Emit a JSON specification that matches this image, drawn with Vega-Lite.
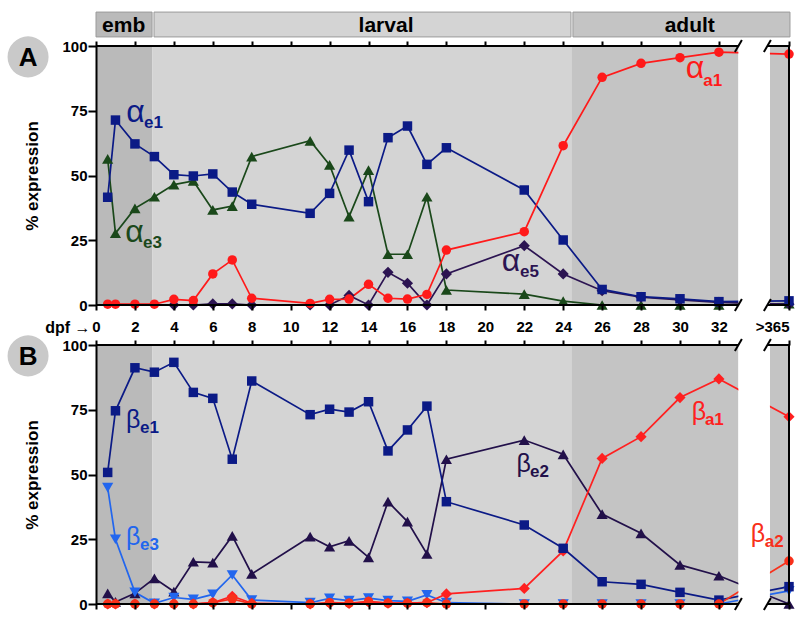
{
"$schema": "https://vega.github.io/schema/vega-lite/v6.json",
"background": "white",
"padding": {"left": 7, "top": 11, "right": 0, "bottom": 0},
"config": {
  "view": {"stroke": null},
  "font": "Liberation Sans",
  "axis": {"grid": false, "labelFontSize": 15, "labelFontWeight": "bold", "labelColor": "black", "tickColor": "black", "tickWidth": 2, "domainColor": "black", "domainWidth": 2, "titleColor": "black", "labelFlush": false, "labelOverlap": false}
},
"datasets": {
  "bands": [
    {"stage": "emb", "start": 0, "end": 2.9},
    {"stage": "larval", "start": 2.9, "end": 24.42},
    {"stage": "adult", "start": 24.42, "end": 33},
    {"stage": "adult", "start": 34.62, "end": 35.6}
  ],
  "header": [
    {"stage": "emb", "start": 0, "end": 2.88, "mid": 1.42},
    {"stage": "larval", "start": 2.98, "end": 24.4, "mid": 14.9},
    {"stage": "adult", "start": 24.5, "end": 35.65, "mid": 30.5}
  ],
  "axislines": [
    {"x1": 0, "x2": 33, "y1": 0, "y2": 0},
    {"x1": 34.5, "x2": 35.6, "y1": 0, "y2": 0},
    {"x1": 0, "x2": 33, "y1": 100, "y2": 100},
    {"x1": 34.5, "x2": 35.6, "y1": 100, "y2": 100},
    {"x1": 35.6, "x2": 35.6, "y1": 0, "y2": 100},
    {"x1": 32.82, "x2": 33.18, "y1": -2.3, "y2": 2.3},
    {"x1": 34.31, "x2": 34.67, "y1": -2.3, "y2": 2.3},
    {"x1": 32.82, "x2": 33.18, "y1": 97.7, "y2": 102.3},
    {"x1": 34.31, "x2": 34.67, "y1": 97.7, "y2": 102.3}
  ],
  "labels": [
    {"panel": "A", "series": "αe1", "greek": "α", "sub": "e1", "gx": 1.55, "gy": 70.7, "sx": 2.47, "sy": 68.3},
    {"panel": "A", "series": "αe3", "greek": "α", "sub": "e3", "gx": 1.5, "gy": 24.3, "sx": 2.42, "sy": 22.0},
    {"panel": "A", "series": "αe5", "greek": "α", "sub": "e5", "gx": 20.85, "gy": 13.1, "sx": 21.78, "sy": 10.8},
    {"panel": "A", "series": "αa1", "greek": "α", "sub": "a1", "gx": 30.3, "gy": 87.6, "sx": 31.2, "sy": 84.6},
    {"panel": "B", "series": "βe1", "greek": "β", "sub": "e1", "gx": 1.54, "gy": 68.0, "sx": 2.26, "sy": 66.0},
    {"panel": "B", "series": "βe3", "greek": "β", "sub": "e3", "gx": 1.54, "gy": 22.8, "sx": 2.26, "sy": 20.8},
    {"panel": "B", "series": "βe2", "greek": "β", "sub": "e2", "gx": 21.6, "gy": 51.0, "sx": 22.3, "sy": 49.0},
    {"panel": "B", "series": "βa1", "greek": "β", "sub": "a1", "gx": 30.6, "gy": 71.0, "sx": 31.28, "sy": 69.1},
    {"panel": "B", "series": "βa2", "greek": "β", "sub": "a2", "gx": 33.64, "gy": 24.0, "sx": 34.36, "sy": 22.0}
  ],
  "series": [
    {"panel":"A","series":"αe3","day":0.6,"pct":56.4},{"panel":"A","series":"αe3","day":1,"pct":27.7},{"panel":"A","series":"αe3","day":2,"pct":37.3},{"panel":"A","series":"αe3","day":3,"pct":41.8},{"panel":"A","series":"αe3","day":4,"pct":46.5},{"panel":"A","series":"αe3","day":5,"pct":47.9},{"panel":"A","series":"αe3","day":6,"pct":36.7},{"panel":"A","series":"αe3","day":7,"pct":38.2},{"panel":"A","series":"αe3","day":8,"pct":57.3},{"panel":"A","series":"αe3","day":11,"pct":63.4},{"panel":"A","series":"αe3","day":12,"pct":54.1},{"panel":"A","series":"αe3","day":13,"pct":34.1},{"panel":"A","series":"αe3","day":14,"pct":52.1},{"panel":"A","series":"αe3","day":15,"pct":19.6},{"panel":"A","series":"αe3","day":16,"pct":19.6},{"panel":"A","series":"αe3","day":17,"pct":41.8},{"panel":"A","series":"αe3","day":18,"pct":5.8},{"panel":"A","series":"αe3","day":22,"pct":4.2},{"panel":"A","series":"αe3","day":24,"pct":1.5},{"panel":"A","series":"αe3","day":26,"pct":0},{"panel":"A","series":"αe3","day":28,"pct":0},{"panel":"A","series":"αe3","day":30,"pct":0},{"panel":"A","series":"αe3","day":32,"pct":0},{"panel":"A","series":"αe3","day":35.6,"pct":0.5},
    {"panel":"A","series":"αe5","day":4,"pct":0},{"panel":"A","series":"αe5","day":5,"pct":0},{"panel":"A","series":"αe5","day":6,"pct":0.4},{"panel":"A","series":"αe5","day":7,"pct":0.4},{"panel":"A","series":"αe5","day":8,"pct":0},{"panel":"A","series":"αe5","day":11,"pct":0},{"panel":"A","series":"αe5","day":12,"pct":0},{"panel":"A","series":"αe5","day":13,"pct":3.7},{"panel":"A","series":"αe5","day":14,"pct":0},{"panel":"A","series":"αe5","day":15,"pct":12.6},{"panel":"A","series":"αe5","day":16,"pct":8.4},{"panel":"A","series":"αe5","day":17,"pct":0},{"panel":"A","series":"αe5","day":18,"pct":12.0},{"panel":"A","series":"αe5","day":22,"pct":22.9},{"panel":"A","series":"αe5","day":24,"pct":12.0},{"panel":"A","series":"αe5","day":26,"pct":5.5},{"panel":"A","series":"αe5","day":28,"pct":3.0},{"panel":"A","series":"αe5","day":30,"pct":2.0},{"panel":"A","series":"αe5","day":32,"pct":1.0},{"panel":"A","series":"αe5","day":35.6,"pct":0.3},
    {"panel":"A","series":"αe1","day":0.6,"pct":41.6},{"panel":"A","series":"αe1","day":1,"pct":71.4},{"panel":"A","series":"αe1","day":2,"pct":62.2},{"panel":"A","series":"αe1","day":3,"pct":57.3},{"panel":"A","series":"αe1","day":4,"pct":50.3},{"panel":"A","series":"αe1","day":5,"pct":49.8},{"panel":"A","series":"αe1","day":6,"pct":50.6},{"panel":"A","series":"αe1","day":7,"pct":43.6},{"panel":"A","series":"αe1","day":8,"pct":38.9},{"panel":"A","series":"αe1","day":11,"pct":35.4},{"panel":"A","series":"αe1","day":12,"pct":43.1},{"panel":"A","series":"αe1","day":13,"pct":59.8},{"panel":"A","series":"αe1","day":14,"pct":39.9},{"panel":"A","series":"αe1","day":15,"pct":64.6},{"panel":"A","series":"αe1","day":16,"pct":69.1},{"panel":"A","series":"αe1","day":17,"pct":54.3},{"panel":"A","series":"αe1","day":18,"pct":60.7},{"panel":"A","series":"αe1","day":22,"pct":44.4},{"panel":"A","series":"αe1","day":24,"pct":25.1},{"panel":"A","series":"αe1","day":26,"pct":6.0},{"panel":"A","series":"αe1","day":28,"pct":3.2},{"panel":"A","series":"αe1","day":30,"pct":2.4},{"panel":"A","series":"αe1","day":32,"pct":1.3},{"panel":"A","series":"αe1","day":35.6,"pct":1.6},
    {"panel":"A","series":"αa1","day":0.6,"pct":0.3},{"panel":"A","series":"αa1","day":1,"pct":0.3},{"panel":"A","series":"αa1","day":2,"pct":0.3},{"panel":"A","series":"αa1","day":3,"pct":0.3},{"panel":"A","series":"αa1","day":4,"pct":2.2},{"panel":"A","series":"αa1","day":5,"pct":1.7},{"panel":"A","series":"αa1","day":6,"pct":12.0},{"panel":"A","series":"αa1","day":7,"pct":17.4},{"panel":"A","series":"αa1","day":8,"pct":2.6},{"panel":"A","series":"αa1","day":11,"pct":0.6},{"panel":"A","series":"αa1","day":12,"pct":2.2},{"panel":"A","series":"αa1","day":13,"pct":2.3},{"panel":"A","series":"αa1","day":14,"pct":8.0},{"panel":"A","series":"αa1","day":15,"pct":2.6},{"panel":"A","series":"αa1","day":16,"pct":2.3},{"panel":"A","series":"αa1","day":17,"pct":4.1},{"panel":"A","series":"αa1","day":18,"pct":21.2},{"panel":"A","series":"αa1","day":22,"pct":28.3},{"panel":"A","series":"αa1","day":24,"pct":61.5},{"panel":"A","series":"αa1","day":26,"pct":87.9},{"panel":"A","series":"αa1","day":28,"pct":93.3},{"panel":"A","series":"αa1","day":30,"pct":95.5},{"panel":"A","series":"αa1","day":32,"pct":97.6},{"panel":"A","series":"αa1","day":35.6,"pct":96.9},
    {"panel":"B","series":"βe2","day":0.6,"pct":4.1},{"panel":"B","series":"βe2","day":1,"pct":0.8},{"panel":"B","series":"βe2","day":2,"pct":4.1},{"panel":"B","series":"βe2","day":3,"pct":9.9},{"panel":"B","series":"βe2","day":4,"pct":4.8},{"panel":"B","series":"βe2","day":5,"pct":16.3},{"panel":"B","series":"βe2","day":6,"pct":16.0},{"panel":"B","series":"βe2","day":7,"pct":26.3},{"panel":"B","series":"βe2","day":8,"pct":11.6},{"panel":"B","series":"βe2","day":11,"pct":26.0},{"panel":"B","series":"βe2","day":12,"pct":22.1},{"panel":"B","series":"βe2","day":13,"pct":24.4},{"panel":"B","series":"βe2","day":14,"pct":18.0},{"panel":"B","series":"βe2","day":15,"pct":39.5},{"panel":"B","series":"βe2","day":16,"pct":31.8},{"panel":"B","series":"βe2","day":17,"pct":19.3},{"panel":"B","series":"βe2","day":18,"pct":55.9},{"panel":"B","series":"βe2","day":22,"pct":63.3},{"panel":"B","series":"βe2","day":24,"pct":57.8},{"panel":"B","series":"βe2","day":26,"pct":34.7},{"panel":"B","series":"βe2","day":28,"pct":27.3},{"panel":"B","series":"βe2","day":30,"pct":15.1},{"panel":"B","series":"βe2","day":32,"pct":10.9},{"panel":"B","series":"βe2","day":35.6,"pct":0},
    {"panel":"B","series":"βe3","day":0.6,"pct":44.9},{"panel":"B","series":"βe3","day":1,"pct":25.0},{"panel":"B","series":"βe3","day":2,"pct":4.5},{"panel":"B","series":"βe3","day":3,"pct":0.3},{"panel":"B","series":"βe3","day":4,"pct":2.5},{"panel":"B","series":"βe3","day":5,"pct":1.8},{"panel":"B","series":"βe3","day":6,"pct":3.7},{"panel":"B","series":"βe3","day":7,"pct":11.2},{"panel":"B","series":"βe3","day":8,"pct":1.5},{"panel":"B","series":"βe3","day":11,"pct":0.5},{"panel":"B","series":"βe3","day":12,"pct":2.2},{"panel":"B","series":"βe3","day":13,"pct":1.3},{"panel":"B","series":"βe3","day":14,"pct":2.3},{"panel":"B","series":"βe3","day":15,"pct":1.3},{"panel":"B","series":"βe3","day":16,"pct":1.0},{"panel":"B","series":"βe3","day":17,"pct":3.5},{"panel":"B","series":"βe3","day":18,"pct":0.5},{"panel":"B","series":"βe3","day":22,"pct":0},{"panel":"B","series":"βe3","day":24,"pct":0},{"panel":"B","series":"βe3","day":26,"pct":0},{"panel":"B","series":"βe3","day":28,"pct":0},{"panel":"B","series":"βe3","day":30,"pct":0},{"panel":"B","series":"βe3","day":32,"pct":0},{"panel":"B","series":"βe3","day":35.6,"pct":5.1},
    {"panel":"B","series":"βe1","day":0.6,"pct":50.8},{"panel":"B","series":"βe1","day":1,"pct":74.6},{"panel":"B","series":"βe1","day":2,"pct":91.2},{"panel":"B","series":"βe1","day":3,"pct":89.5},{"panel":"B","series":"βe1","day":4,"pct":93.3},{"panel":"B","series":"βe1","day":5,"pct":81.7},{"panel":"B","series":"βe1","day":6,"pct":79.4},{"panel":"B","series":"βe1","day":7,"pct":55.9},{"panel":"B","series":"βe1","day":8,"pct":86.1},{"panel":"B","series":"βe1","day":11,"pct":73.1},{"panel":"B","series":"βe1","day":12,"pct":75.2},{"panel":"B","series":"βe1","day":13,"pct":74.1},{"panel":"B","series":"βe1","day":14,"pct":78.1},{"panel":"B","series":"βe1","day":15,"pct":59.1},{"panel":"B","series":"βe1","day":16,"pct":67.2},{"panel":"B","series":"βe1","day":17,"pct":76.4},{"panel":"B","series":"βe1","day":18,"pct":39.5},{"panel":"B","series":"βe1","day":22,"pct":30.5},{"panel":"B","series":"βe1","day":24,"pct":21.5},{"panel":"B","series":"βe1","day":26,"pct":8.6},{"panel":"B","series":"βe1","day":28,"pct":7.6},{"panel":"B","series":"βe1","day":30,"pct":4.5},{"panel":"B","series":"βe1","day":32,"pct":1.5},{"panel":"B","series":"βe1","day":35.6,"pct":6.7},
    {"panel":"B","series":"βa2","day":0.6,"pct":0},{"panel":"B","series":"βa2","day":1,"pct":0},{"panel":"B","series":"βa2","day":2,"pct":0},{"panel":"B","series":"βa2","day":3,"pct":0},{"panel":"B","series":"βa2","day":4,"pct":0},{"panel":"B","series":"βa2","day":5,"pct":0},{"panel":"B","series":"βa2","day":6,"pct":0.5},{"panel":"B","series":"βa2","day":7,"pct":2.0},{"panel":"B","series":"βa2","day":8,"pct":0},{"panel":"B","series":"βa2","day":11,"pct":0},{"panel":"B","series":"βa2","day":12,"pct":0.5},{"panel":"B","series":"βa2","day":13,"pct":0.3},{"panel":"B","series":"βa2","day":14,"pct":1.0},{"panel":"B","series":"βa2","day":15,"pct":0.3},{"panel":"B","series":"βa2","day":16,"pct":0.3},{"panel":"B","series":"βa2","day":17,"pct":0.5},{"panel":"B","series":"βa2","day":18,"pct":0},{"panel":"B","series":"βa2","day":22,"pct":0},{"panel":"B","series":"βa2","day":24,"pct":0},{"panel":"B","series":"βa2","day":26,"pct":0},{"panel":"B","series":"βa2","day":28,"pct":0},{"panel":"B","series":"βa2","day":30,"pct":0},{"panel":"B","series":"βa2","day":32,"pct":0},{"panel":"B","series":"βa2","day":35.6,"pct":16.6},
    {"panel":"B","series":"βa1","day":0.6,"pct":0},{"panel":"B","series":"βa1","day":1,"pct":0},{"panel":"B","series":"βa1","day":2,"pct":0},{"panel":"B","series":"βa1","day":3,"pct":0},{"panel":"B","series":"βa1","day":4,"pct":0},{"panel":"B","series":"βa1","day":5,"pct":0},{"panel":"B","series":"βa1","day":6,"pct":0.5},{"panel":"B","series":"βa1","day":7,"pct":3.0},{"panel":"B","series":"βa1","day":8,"pct":0.3},{"panel":"B","series":"βa1","day":11,"pct":0},{"panel":"B","series":"βa1","day":12,"pct":0.3},{"panel":"B","series":"βa1","day":13,"pct":0.2},{"panel":"B","series":"βa1","day":14,"pct":0.8},{"panel":"B","series":"βa1","day":15,"pct":0.3},{"panel":"B","series":"βa1","day":16,"pct":0.3},{"panel":"B","series":"βa1","day":17,"pct":0.5},{"panel":"B","series":"βa1","day":18,"pct":3.9},{"panel":"B","series":"βa1","day":22,"pct":6.0},{"panel":"B","series":"βa1","day":24,"pct":20.5},{"panel":"B","series":"βa1","day":26,"pct":56.2},{"panel":"B","series":"βa1","day":28,"pct":64.6},{"panel":"B","series":"βa1","day":30,"pct":79.7},{"panel":"B","series":"βa1","day":32,"pct":86.9},{"panel":"B","series":"βa1","day":35.6,"pct":72.3}
  ]
},
"bounds": "flush",
"spacing": 40,
"vconcat": [
  {
    "width": 693, "height": 259,
    "resolve": {"axis": {"x": "independent"}},
    "layer": [
      {
        "data": {"name": "bands"},
        "mark": {"type": "rect"},
        "encoding": {
          "x": {"field": "start", "type": "quantitative", "scale": {"domain": [0, 35.6], "nice": false, "zero": false},
                "axis": {"orient": "bottom", "values": [0,2,4,6,8,10,12,14,16,18,20,22,24,26,28,30,32,35.6], "domain": false, "tickSize": 5, "labelPadding": 9,
                         "labelExpr": "datum.value > 34 ? '>365' : datum.label",
                         "labelAlign": {"condition": {"test": "datum.value > 34", "value": "right"}, "value": "center"},
                         "title": "dpf →", "titleFontSize": 16, "titleAlign": "right", "titleBaseline": "alphabetic", "titleX": -6, "titleY": 27, "zindex": 1}},
          "x2": {"field": "end"},
          "y": {"datum": 0, "type": "quantitative", "scale": {"domain": [0, 100], "nice": false},
                "axis": {"values": [0,25,50,75,100], "tickSize": 8, "labelPadding": 1, "title": "% expression", "titleFontSize": 17, "titlePadding": 20, "zindex": 1}},
          "y2": {"datum": 100},
          "fill": {"field": "stage", "type": "nominal", "scale": {"domain": ["emb","larval","adult"], "range": ["#bababa","#d4d4d4","#c4c4c4"]}, "legend": null}
        }
      },
      {
        "data": {"name": "series"},
        "transform": [{"filter": "datum.panel === 'A'"}],
        "mark": {"type": "line", "strokeWidth": 1.7},
        "encoding": {
          "x": {"field": "day", "type": "quantitative", "axis": null},
          "y": {"field": "pct", "type": "quantitative"},
          "color": {"field": "series", "type": "nominal", "scale": {"domain": ["αe1","αe3","αe5","αa1","βe1","βe2","βe3","βa1","βa2"], "range": ["#0b1a86","#1a481a","#2c1452","#ff1a1a","#0b1a86","#22104a","#2266ee","#ff2020","#f8301a"]}, "legend": null}
        }
      },
      {
        "data": {"name": "series"},
        "transform": [{"filter": "datum.panel === 'A' && (datum.series === 'αe3' || datum.series === 'αe5')"}],
        "mark": {"type": "point", "filled": true, "opacity": 1, "size": 125},
        "encoding": {
          "x": {"field": "day", "type": "quantitative", "axis": null},
          "y": {"field": "pct", "type": "quantitative"},
          "color": {"field": "series", "type": "nominal", "legend": null},
          "shape": {"field": "series", "type": "nominal", "scale": {"domain": ["αe1","αe3","αe5","αa1","βe1","βe2","βe3","βa1","βa2"], "range": ["square","triangle-up","diamond","circle","square","triangle-up","triangle-down","diamond","circle"]}, "legend": null}
        }
      },
      {
        "data": {"name": "series"},
        "transform": [{"filter": "datum.panel === 'A' && (datum.series === 'αe1' || datum.series === 'αa1')"}],
        "mark": {"type": "point", "filled": true, "opacity": 1, "size": 90},
        "encoding": {
          "x": {"field": "day", "type": "quantitative", "axis": null},
          "y": {"field": "pct", "type": "quantitative"},
          "color": {"field": "series", "type": "nominal", "legend": null},
          "shape": {"field": "series", "type": "nominal", "legend": null}
        }
      },
      {
        "data": {"values": [{}]},
        "mark": {"type": "rect", "color": "white"},
        "encoding": {
          "x": {"datum": 33, "type": "quantitative", "axis": null},
          "x2": {"datum": 34.62},
          "y": {"datum": -1, "type": "quantitative"},
          "y2": {"datum": 101}
        }
      },
      {
        "data": {"name": "axislines"},
        "mark": {"type": "rule", "color": "black", "strokeWidth": 2},
        "encoding": {
          "x": {"field": "x1", "type": "quantitative", "axis": {"orient": "top", "values": [0,2,4,6,8,10,12,14,16,18,20,22,24,26,28,30,32,35.6], "domain": false, "labels": false, "tickSize": 5, "title": null, "zindex": 1}},
          "x2": {"field": "x2"},
          "y": {"field": "y1", "type": "quantitative"},
          "y2": {"field": "y2"}
        }
      },
      {
        "data": {"name": "labels"},
        "transform": [{"filter": "datum.panel === 'A'"}],
        "mark": {"type": "text", "align": "left", "baseline": "alphabetic", "fontSize": 32},
        "encoding": {
          "x": {"field": "gx", "type": "quantitative", "axis": null},
          "y": {"field": "gy", "type": "quantitative"},
          "text": {"field": "greek"},
          "color": {"field": "series", "type": "nominal", "legend": null}
        }
      },
      {
        "data": {"name": "labels"},
        "transform": [{"filter": "datum.panel === 'A'"}],
        "mark": {"type": "text", "align": "left", "baseline": "alphabetic", "fontSize": 17, "fontWeight": "bold"},
        "encoding": {
          "x": {"field": "sx", "type": "quantitative", "axis": null},
          "y": {"field": "sy", "type": "quantitative"},
          "text": {"field": "sub"},
          "color": {"field": "series", "type": "nominal", "legend": null}
        }
      },
      {
        "data": {"values": [{}]},
        "mark": {"type": "point", "shape": "circle", "filled": true, "opacity": 1, "size": 1681, "color": "#c9c9c9"},
        "encoding": {
          "x": {"datum": -3.49, "type": "quantitative", "axis": null},
          "y": {"datum": 95.8, "type": "quantitative"}
        }
      },
      {
        "data": {"values": [{}]},
        "mark": {"type": "text", "text": "A", "fontSize": 26, "fontWeight": "bold", "align": "center", "baseline": "middle", "dy": 1, "color": "black"},
        "encoding": {
          "x": {"datum": -3.49, "type": "quantitative", "axis": null},
          "y": {"datum": 95.8, "type": "quantitative"}
        }
      },
      {
        "data": {"name": "header"},
        "mark": {"type": "rect", "stroke": "#9a9a9a", "strokeWidth": 1},
        "encoding": {
          "x": {"field": "start", "type": "quantitative", "axis": null},
          "x2": {"field": "end"},
          "y": {"datum": 103.5, "type": "quantitative"},
          "y2": {"datum": 113.1},
          "fill": {"field": "stage", "type": "nominal", "legend": null}
        }
      },
      {
        "data": {"name": "header"},
        "mark": {"type": "text", "fontSize": 21, "fontWeight": "bold", "align": "center", "baseline": "alphabetic", "color": "black"},
        "encoding": {
          "x": {"field": "mid", "type": "quantitative", "axis": null},
          "y": {"datum": 105.4, "type": "quantitative"},
          "text": {"field": "stage"}
        }
      }
    ]
  },
  {
    "width": 693, "height": 259,
    "resolve": {"axis": {"x": "independent"}},
    "layer": [
      {
        "data": {"name": "bands"},
        "mark": {"type": "rect"},
        "encoding": {
          "x": {"field": "start", "type": "quantitative", "scale": {"domain": [0, 35.6], "nice": false, "zero": false},
                "axis": {"orient": "bottom", "values": [0,2,4,6,8,10,12,14,16,18,20,22,24,26,28,30,32,35.6], "domain": false, "tickSize": 5, "labels": false, "title": null, "zindex": 1}},
          "x2": {"field": "end"},
          "y": {"datum": 0, "type": "quantitative", "scale": {"domain": [0, 100], "nice": false},
                "axis": {"values": [0,25,50,75,100], "tickSize": 8, "labelPadding": 1, "title": "% expression", "titleFontSize": 17, "titlePadding": 20, "zindex": 1}},
          "y2": {"datum": 100},
          "fill": {"field": "stage", "type": "nominal", "scale": {"domain": ["emb","larval","adult"], "range": ["#bababa","#d4d4d4","#c4c4c4"]}, "legend": null}
        }
      },
      {
        "data": {"name": "series"},
        "transform": [{"filter": "datum.panel === 'B'"}],
        "mark": {"type": "line", "strokeWidth": 1.7},
        "encoding": {
          "x": {"field": "day", "type": "quantitative", "axis": null},
          "y": {"field": "pct", "type": "quantitative"},
          "color": {"field": "series", "type": "nominal", "scale": {"domain": ["αe1","αe3","αe5","αa1","βe1","βe2","βe3","βa1","βa2"], "range": ["#0b1a86","#1a481a","#2c1452","#ff1a1a","#0b1a86","#22104a","#2266ee","#ff2020","#f8301a"]}, "legend": null}
        }
      },
      {
        "data": {"name": "series"},
        "transform": [{"filter": "datum.panel === 'B' && (datum.series === 'βe2' || datum.series === 'βe3' || datum.series === 'βa1')"}],
        "mark": {"type": "point", "filled": true, "opacity": 1, "size": 125},
        "encoding": {
          "x": {"field": "day", "type": "quantitative", "axis": null},
          "y": {"field": "pct", "type": "quantitative"},
          "color": {"field": "series", "type": "nominal", "legend": null},
          "shape": {"field": "series", "type": "nominal", "scale": {"domain": ["αe1","αe3","αe5","αa1","βe1","βe2","βe3","βa1","βa2"], "range": ["square","triangle-up","diamond","circle","square","triangle-up","triangle-down","diamond","circle"]}, "legend": null}
        }
      },
      {
        "data": {"name": "series"},
        "transform": [{"filter": "datum.panel === 'B' && (datum.series === 'βe1' || datum.series === 'βa2')"}],
        "mark": {"type": "point", "filled": true, "opacity": 1, "size": 90},
        "encoding": {
          "x": {"field": "day", "type": "quantitative", "axis": null},
          "y": {"field": "pct", "type": "quantitative"},
          "color": {"field": "series", "type": "nominal", "legend": null},
          "shape": {"field": "series", "type": "nominal", "legend": null}
        }
      },
      {
        "data": {"values": [{}]},
        "mark": {"type": "rect", "color": "white"},
        "encoding": {
          "x": {"datum": 33, "type": "quantitative", "axis": null},
          "x2": {"datum": 34.62},
          "y": {"datum": -1, "type": "quantitative"},
          "y2": {"datum": 101}
        }
      },
      {
        "data": {"name": "axislines"},
        "mark": {"type": "rule", "color": "black", "strokeWidth": 2},
        "encoding": {
          "x": {"field": "x1", "type": "quantitative", "axis": {"orient": "top", "values": [0,2,4,6,8,10,12,14,16,18,20,22,24,26,28,30,32,35.6], "domain": false, "labels": false, "tickSize": 5, "title": null, "zindex": 1}},
          "x2": {"field": "x2"},
          "y": {"field": "y1", "type": "quantitative"},
          "y2": {"field": "y2"}
        }
      },
      {
        "data": {"name": "labels"},
        "transform": [{"filter": "datum.panel === 'B'"}],
        "mark": {"type": "text", "align": "left", "baseline": "alphabetic", "fontSize": 25},
        "encoding": {
          "x": {"field": "gx", "type": "quantitative", "axis": null},
          "y": {"field": "gy", "type": "quantitative"},
          "text": {"field": "greek"},
          "color": {"field": "series", "type": "nominal", "legend": null}
        }
      },
      {
        "data": {"name": "labels"},
        "transform": [{"filter": "datum.panel === 'B'"}],
        "mark": {"type": "text", "align": "left", "baseline": "alphabetic", "fontSize": 17, "fontWeight": "bold"},
        "encoding": {
          "x": {"field": "sx", "type": "quantitative", "axis": null},
          "y": {"field": "sy", "type": "quantitative"},
          "text": {"field": "sub"},
          "color": {"field": "series", "type": "nominal", "legend": null}
        }
      },
      {
        "data": {"values": [{}]},
        "mark": {"type": "point", "shape": "circle", "filled": true, "opacity": 1, "size": 1681, "color": "#c9c9c9"},
        "encoding": {
          "x": {"datum": -3.49, "type": "quantitative", "axis": null},
          "y": {"datum": 95.8, "type": "quantitative"}
        }
      },
      {
        "data": {"values": [{}]},
        "mark": {"type": "text", "text": "B", "fontSize": 26, "fontWeight": "bold", "align": "center", "baseline": "middle", "dy": 1, "color": "black"},
        "encoding": {
          "x": {"datum": -3.49, "type": "quantitative", "axis": null},
          "y": {"datum": 95.8, "type": "quantitative"}
        }
      }
    ]
  }
]
}
